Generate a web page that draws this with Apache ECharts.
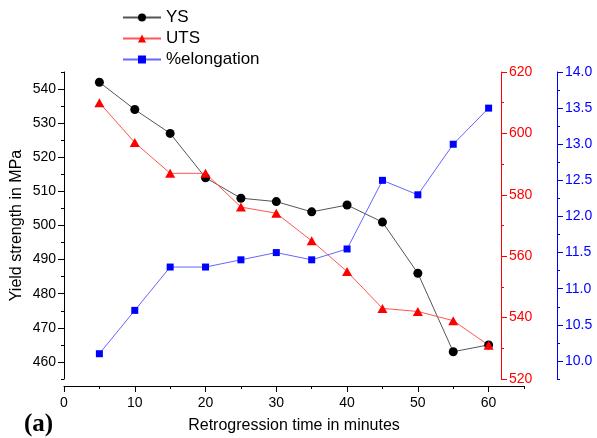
<!DOCTYPE html>
<html><head><meta charset="utf-8">
<script src="https://cdn.jsdelivr.net/npm/echarts@6/dist/echarts.min.js"></script>
<style>html,body{margin:0;padding:0;background:#fff}#c{width:597px;height:438px}</style>
</head><body><div id="c"></div>
<script>
const times = [5,10,15,20,25,30,35,40,45,50,55,60];
const ys = [542,534,527,514,508,507,504,506,501,486,463,465];
const uts = [610,597,587,587,576,574,565,555,543,542,539,531];
const elong = [10.1,10.7,11.3,11.3,11.4,11.5,11.4,11.55,12.5,12.3,13.0,13.5];

const xLabels = [0,10,20,30,40,50,60];
const xMinor = [5,15,25,35,45,55,65];
const ysLabels = [460,470,480,490,500,510,520,530,540];
const ysMinor = [455,465,475,485,495,505,515,525,535,545];
const utsLabels = [520,540,560,580,600,620];
const utsMinor = [530,550,570,590,610];
const elongLabels = [10,10.5,11,11.5,12,12.5,13,13.5,14];
const elongMinor = [9.75,10.25,10.75,11.25,11.75,12.25,12.75,13.25,13.75];

const FONT = 'Liberation Sans';
const chart = echarts.init(document.getElementById('c'), null, {renderer:'canvas'});

function minorAxis(base, vals, color){
  return Object.assign({
    type:'value', axisLine:{show:false}, splitLine:{show:false},
    axisLabel:{show:false},
    axisTick:{show:true, length:3, customValues:vals, lineStyle:{color:color, width:1}}
  }, base);
}

const option = {
  animation:false,
  backgroundColor:'#fff',
  title:{text:'(a)', left:19, top:407, textStyle:{fontFamily:'Liberation Serif', fontWeight:'bold', fontSize:25, color:'#000'}},
  legend:{
    orient:'vertical', left:117, top:4, itemWidth:38, itemHeight:10, itemGap:4,
    textStyle:{fontFamily:FONT, fontSize:17, color:'#000'},
    data:['YS','UTS','%elongation']
  },
  grid:{left:64, right:73, top:72, bottom:59, outerBoundsMode:'none', containLabel:false},
  xAxis:[
    {type:'value', min:0, max:65, offset:7, position:'bottom',
     name:'Retrogression time in minutes', nameLocation:'middle', nameGap:32, nameMoveOverlap:false,
     nameTextStyle:{fontFamily:FONT, fontSize:16, color:'#000'},
     axisLine:{show:true, lineStyle:{color:'#000', width:1}},
     axisTick:{show:true, length:6, customValues:xLabels, lineStyle:{color:'#000'}},
     axisLabel:{customValues:xLabels, fontFamily:FONT, fontSize:14, color:'#000', margin:10},
     splitLine:{show:false}},
    minorAxis({min:0, max:65, offset:7, position:'bottom'}, xMinor, '#000')
  ],
  yAxis:[
    {type:'value', min:455, max:545, position:'left',
     name:'Yield strength in MPa', nameLocation:'middle', nameGap:39, nameMoveOverlap:false,
     nameTextStyle:{fontFamily:FONT, fontSize:16, color:'#000'},
     axisLine:{show:true, lineStyle:{color:'#000', width:1}},
     axisTick:{show:true, length:6, customValues:ysLabels, lineStyle:{color:'#000'}},
     axisLabel:{customValues:ysLabels, fontFamily:FONT, fontSize:14, color:'#000', margin:8},
     splitLine:{show:false}},
    minorAxis({min:455, max:545, position:'left'}, ysMinor, '#000'),
    {type:'value', min:520, max:620, interval:20, position:'right', offset:-23,
     axisLine:{show:true, lineStyle:{color:'#f00', width:1}},
     axisTick:{show:true, length:6, lineStyle:{color:'#f00'}},
     minorTick:{show:true, splitNumber:2, length:3, lineStyle:{color:'#f00'}},
     axisLabel:{fontFamily:FONT, fontSize:14, color:'#f00', margin:8},
     splitLine:{show:false}, minorSplitLine:{show:false}},
    {type:'value', min:9.75, max:14, position:'right', offset:33,
     axisLine:{show:true, lineStyle:{color:'#00f', width:1}},
     axisTick:{show:true, length:6, customValues:elongLabels, lineStyle:{color:'#00f'}},
     axisLabel:{customValues:elongLabels, fontFamily:FONT, fontSize:14, color:'#00f', margin:8,
       formatter:v=>Number(v).toFixed(1)},
     splitLine:{show:false}},
    minorAxis({min:9.75, max:14, position:'right', offset:33}, elongMinor, '#00f')
  ],
  series:[
    {name:'YS', type:'line', xAxisIndex:0, yAxisIndex:0,
     data:times.map((t,i)=>[t, ys[i]]),
     symbol:'circle', symbolSize:9,
     itemStyle:{color:'#000'}, lineStyle:{color:'#555', width:1}},
    {name:'UTS', type:'line', xAxisIndex:0, yAxisIndex:2,
     data:times.map((t,i)=>[t, uts[i]]),
     symbol:'triangle', symbolSize:[10,9],
     itemStyle:{color:'#f00'}, lineStyle:{color:'#f55', width:1}},
    {name:'%elongation', type:'line', xAxisIndex:0, yAxisIndex:3,
     data:times.map((t,i)=>[t, elong[i]]),
     symbol:'rect', symbolSize:7,
     itemStyle:{color:'#00f'}, lineStyle:{color:'#66f', width:1}}
  ]
};
chart.setOption(option);
</script>
</body></html>
